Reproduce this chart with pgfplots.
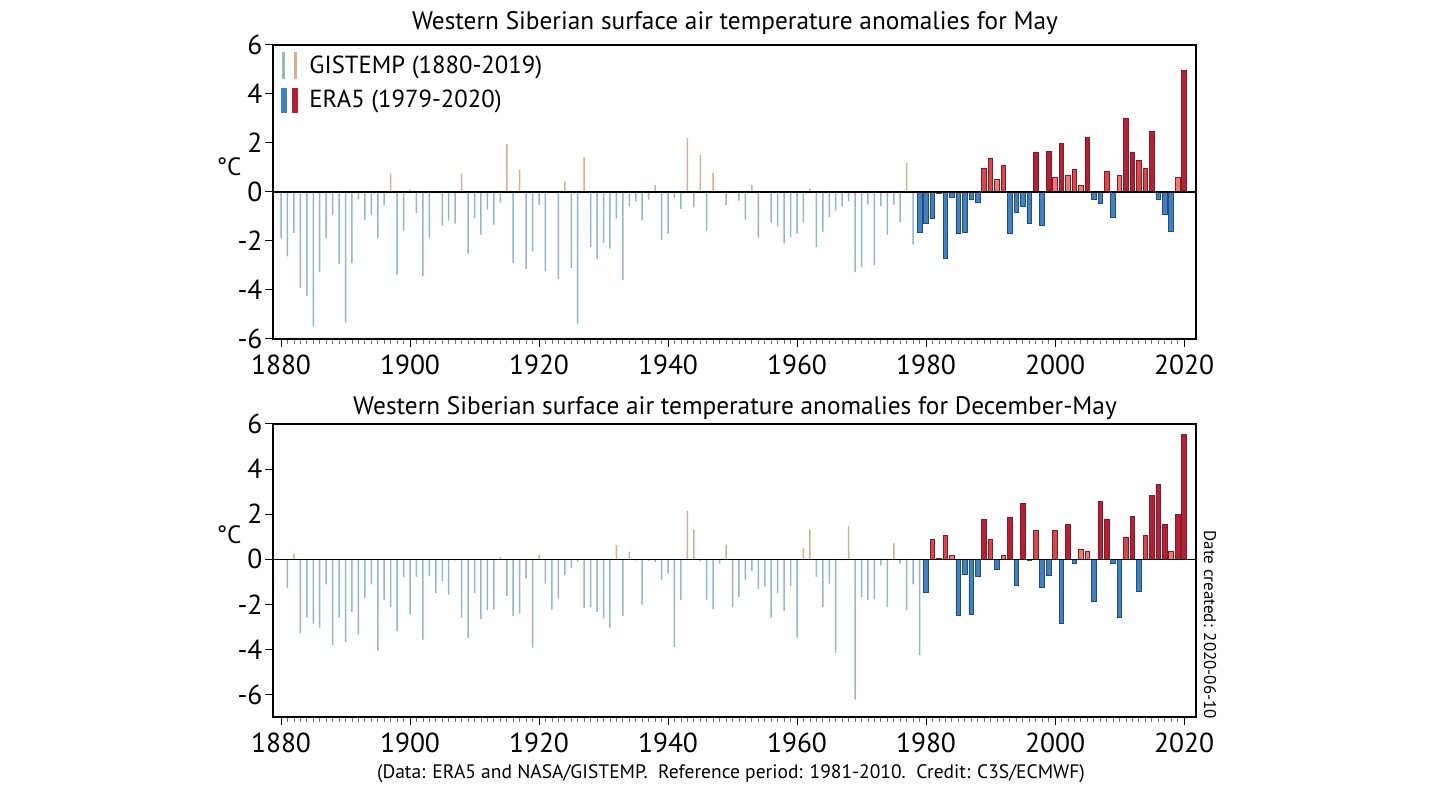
\documentclass[border=0pt]{standalone}
\usepackage{fontspec}
\setmainfont{PT Sans}
\usepackage{pgfplots}
\usepackage{pgfplotstable}
\pgfplotsset{compat=1.18}

\definecolor{gneg}{RGB}{150,184,196}
\definecolor{gpos}{RGB}{214,176,146}
\definecolor{eblue}{RGB}{66,128,190}
\definecolor{eblueedge}{RGB}{32,78,122}
\definecolor{ereddark}{RGB}{178,34,54}
\definecolor{eredmid}{RGB}{210,74,76}
\definecolor{eredlight}{RGB}{232,126,112}
\definecolor{erededge}{RGB}{135,24,40}

% Top panel: May
\pgfplotstableread{
year val
1880 -1.88
1881 -2.63
1882 -1.67
1883 -3.92
1884 -4.23
1885 -5.46
1886 -3.27
1887 -1.88
1888 -0.93
1889 -2.94
1890 -5.32
1891 -2.90
1892 -0.30
1893 -1.13
1894 -0.93
1895 -1.88
1896 -0.54
1897 0.75
1898 -3.37
1899 -1.59
1900 0.10
1901 -0.86
1902 -3.44
1903 -1.88
1904 -0.05
1905 -1.37
1906 -1.16
1907 -1.29
1908 0.75
1909 -2.52
1910 -1.06
1911 -1.74
1912 -0.72
1913 -1.33
1914 -0.42
1915 1.96
1916 -2.90
1917 0.91
1918 -3.14
1919 -2.42
1920 -0.52
1921 -3.24
1922 -0.05
1923 -3.55
1924 0.43
1925 -3.10
1926 -5.39
1927 1.41
1928 -2.24
1929 -2.73
1930 -2.08
1931 -2.31
1932 -1.09
1933 -3.60
1934 -0.59
1935 -0.38
1936 -1.16
1937 -0.31
1938 0.29
1939 -1.95
1940 -1.71
1941 -0.24
1942 -0.69
1943 2.20
1944 -0.63
1945 1.52
1946 -1.60
1947 0.78
1948 -0.05
1949 -0.54
1950 -0.05
1951 -0.35
1952 -1.13
1953 0.30
1954 -1.86
1955 0.05
1956 -1.24
1957 -1.40
1958 -2.10
1959 -1.84
1960 -1.70
1961 -1.24
1962 0.14
1963 -2.24
1964 -1.62
1965 -1.03
1966 -0.76
1967 -0.58
1968 -0.38
1969 -3.27
1970 -3.07
1971 -0.52
1972 -2.97
1973 -0.58
1974 -1.74
1975 -0.52
1976 -1.24
1977 1.18
1978 -2.15
}\gisttop

\pgfplotstableread{
year val
1979 -1.65
1980 -1.27
1981 -1.07
1982 -0.05
1983 -2.70
1984 -0.20
1985 -1.70
1986 -1.65
1987 -0.31
1988 -0.41
1989 0.98
1990 1.39
1991 0.50
1992 1.07
1993 -1.67
1994 -0.83
1995 -0.58
1996 -1.27
1997 1.63
1998 -1.37
1999 1.66
2000 0.60
2001 1.97
2002 0.68
2003 0.91
2004 0.26
2005 2.24
2006 -0.31
2007 -0.48
2008 0.84
2009 -1.03
2010 0.68
2011 3.02
2012 1.63
2013 1.29
2014 0.97
2015 2.48
2016 -0.31
2017 -0.93
2018 -1.60
2019 0.61
2020 4.97
}\eratop

% Bottom panel: December-May
\pgfplotstableread{
year val
1881 -1.27
1882 0.25
1883 -3.27
1884 -2.59
1885 -2.86
1886 -3.03
1887 -1.12
1888 -3.82
1889 -2.59
1890 -3.67
1891 -2.34
1892 -3.33
1893 -1.72
1894 -1.12
1895 -4.04
1896 -1.82
1897 -2.12
1898 -3.20
1899 -0.78
1900 -2.44
1901 -0.78
1902 -3.57
1903 -0.74
1904 -1.49
1905 -0.96
1906 -1.57
1907 -0.05
1908 -2.59
1909 -3.49
1910 -1.49
1911 -2.66
1912 -2.26
1913 -2.23
1914 0.10
1915 -1.63
1916 -2.52
1917 -2.41
1918 -0.86
1919 -3.92
1920 0.20
1921 -1.08
1922 -2.23
1923 -1.75
1924 -0.71
1925 -0.39
1926 -0.12
1927 -2.16
1928 -2.12
1929 -2.34
1930 -2.63
1931 -3.03
1932 0.62
1933 -2.51
1934 0.33
1935 -0.05
1936 -2.01
1937 -0.07
1938 -0.12
1939 -0.90
1940 -0.64
1941 -3.89
1942 -1.82
1943 2.14
1944 1.29
1945 -0.07
1946 -1.79
1947 -2.23
1948 -0.19
1949 0.65
1950 -2.12
1951 -1.67
1952 -0.90
1953 -0.53
1954 -1.33
1955 -1.20
1956 -2.59
1957 -1.52
1958 -2.29
1959 -1.18
1960 -3.48
1961 0.52
1962 1.32
1963 -0.78
1964 -2.12
1965 -1.08
1966 -4.16
1967 -0.05
1968 1.48
1969 -6.23
1970 -1.67
1971 -1.82
1972 -1.78
1973 -0.27
1974 -2.12
1975 0.70
1976 -0.19
1977 -2.26
1978 -1.12
1979 -4.26
}\gistbot

\pgfplotstableread{
year val
1980 -1.45
1981 0.89
1982 0.02
1983 1.04
1984 0.18
1985 -2.49
1986 -0.68
1987 -2.44
1988 -0.78
1989 1.78
1990 0.87
1991 -0.44
1992 0.15
1993 1.85
1994 -1.15
1995 2.47
1996 -0.04
1997 1.29
1998 -1.27
1999 -0.71
2000 1.29
2001 -2.83
2002 1.54
2003 -0.19
2004 0.43
2005 0.37
2006 -1.89
2007 2.57
2008 1.79
2009 -0.19
2010 -2.56
2011 0.99
2012 1.88
2013 -1.41
2014 1.05
2015 2.83
2016 3.33
2017 1.54
2018 0.34
2019 2.00
2020 5.55
}\erabot

\pgfplotsset{
  panel/.style={
    scale only axis, width=923pt, anchor=south west,
    xmin=1878.76, xmax=2021.86,
    xtick={1880,1900,...,2020}, minor x tick num=19,
    ytick={-6,-4,...,6},
    xtick pos=bottom, ytick pos=left, tick align=outside,
    major tick length=8pt, minor tick length=5pt,
    axis line style={line width=1.6pt},
    major tick style={line width=1pt, black},
    minor tick style={line width=0.8pt, black!55},
    tick label style={font=\fontsize{27.5}{30}\selectfont},
    xticklabel style={/pgf/number format/1000 sep=, yshift=-4pt},
    yticklabel style={xshift=1pt},
    /pgf/number format/assume math mode=true,
  },
  gneg/.style={ybar, bar width=1.5pt, bar shift=0pt, draw=none, fill=gneg, restrict y to domain=-10:0},
  gpos/.style={ybar, bar width=1.5pt, bar shift=0pt, draw=none, fill=gpos, restrict y to domain=0:10},
  eneg/.style={ybar, bar width=4.6pt, bar shift=0pt, draw=eblueedge, line width=0.7pt, fill=eblue, restrict y to domain=-10:0},
  eposl/.style={ybar, bar width=4.6pt, bar shift=0pt, draw=erededge, line width=0.7pt, fill=eredlight, restrict y to domain=0:0.79},
  eposm/.style={ybar, bar width=4.6pt, bar shift=0pt, draw=erededge, line width=0.7pt, fill=eredmid, restrict y to domain=0.8:1.49},
  eposd/.style={ybar, bar width=4.6pt, bar shift=0pt, draw=erededge, line width=0.7pt, fill=ereddark, restrict y to domain=1.5:10},
}

\begin{document}
\begin{tikzpicture}[x=1pt,y=1pt]
\path[use as bounding box, fill=white] (0,0) rectangle (1440,810);

% ---------- top panel ----------
\begin{axis}[panel, at={(273pt,471pt)}, height=294pt, ymin=-6, ymax=6,
  legend cell align=left,
  legend style={at={(0.008,0.976)}, anchor=north west, draw=none, fill=none,
    font=\fontsize{24.7}{27}\selectfont, row sep=9pt, inner sep=0pt,
    nodes={inner sep=2pt}},
]
\addlegendimage{legend image code/.code={
  \fill[gneg] (-0.7pt,-13pt) rectangle (0.7pt,13pt);
  \fill[gpos] (11.3pt,-13pt) rectangle (12.7pt,13pt);
  \path (24pt,0pt);}}
\addlegendentry{GISTEMP (1880-2019)}
\addlegendimage{legend image code/.code={
  \fill[eblue] (-2.5pt,-12pt) rectangle (2.5pt,12pt);
  \fill[ereddark] (9pt,-12pt) rectangle (14pt,12pt);
  \path (24pt,0pt);}}
\addlegendentry{ERA5 (1979-2020)}

\addplot[gneg] table[x=year,y=val] {\gisttop};
\addplot[gpos] table[x=year,y=val] {\gisttop};
\addplot[eneg] table[x=year,y=val] {\eratop};
\addplot[eposl] table[x=year,y=val] {\eratop};
\addplot[eposm] table[x=year,y=val] {\eratop};
\addplot[eposd] table[x=year,y=val] {\eratop};
\draw[black, line width=1.4pt] (axis cs:1878.76,0) -- (axis cs:2021.86,0);
\end{axis}

% ---------- bottom panel ----------
\begin{axis}[panel, at={(273pt,93pt)}, height=293pt, ymin=-7, ymax=6]
\addplot[gneg] table[x=year,y=val] {\gistbot};
\addplot[gpos] table[x=year,y=val] {\gistbot};
\addplot[eneg] table[x=year,y=val] {\erabot};
\addplot[eposl] table[x=year,y=val] {\erabot};
\addplot[eposm] table[x=year,y=val] {\erabot};
\addplot[eposd] table[x=year,y=val] {\erabot};
\draw[black, line width=1.4pt] (axis cs:1878.76,0) -- (axis cs:2021.86,0);
\end{axis}

% ---------- texts ----------
\node[font=\fontsize{25.3}{29}\selectfont] at (735,787) {Western Siberian surface air temperature anomalies for May};
\node[font=\fontsize{25.3}{29}\selectfont] at (735,402) {Western Siberian surface air temperature anomalies for December-May};
\node[font=\fontsize{25}{28}\selectfont] at (229,643) {°C};
\node[font=\fontsize{25}{28}\selectfont] at (229,275) {°C};
\node[font=\fontsize{17}{20}\selectfont, rotate=-90] at (1210,185) {Date created: 2020-06-10};
\node[font=\fontsize{19.5}{22}\selectfont] at (731,36) {(Data: ERA5 and NASA/GISTEMP.\ \ Reference period: 1981-2010.\ \ Credit: C3S/ECMWF)};
\end{tikzpicture}
\end{document}
